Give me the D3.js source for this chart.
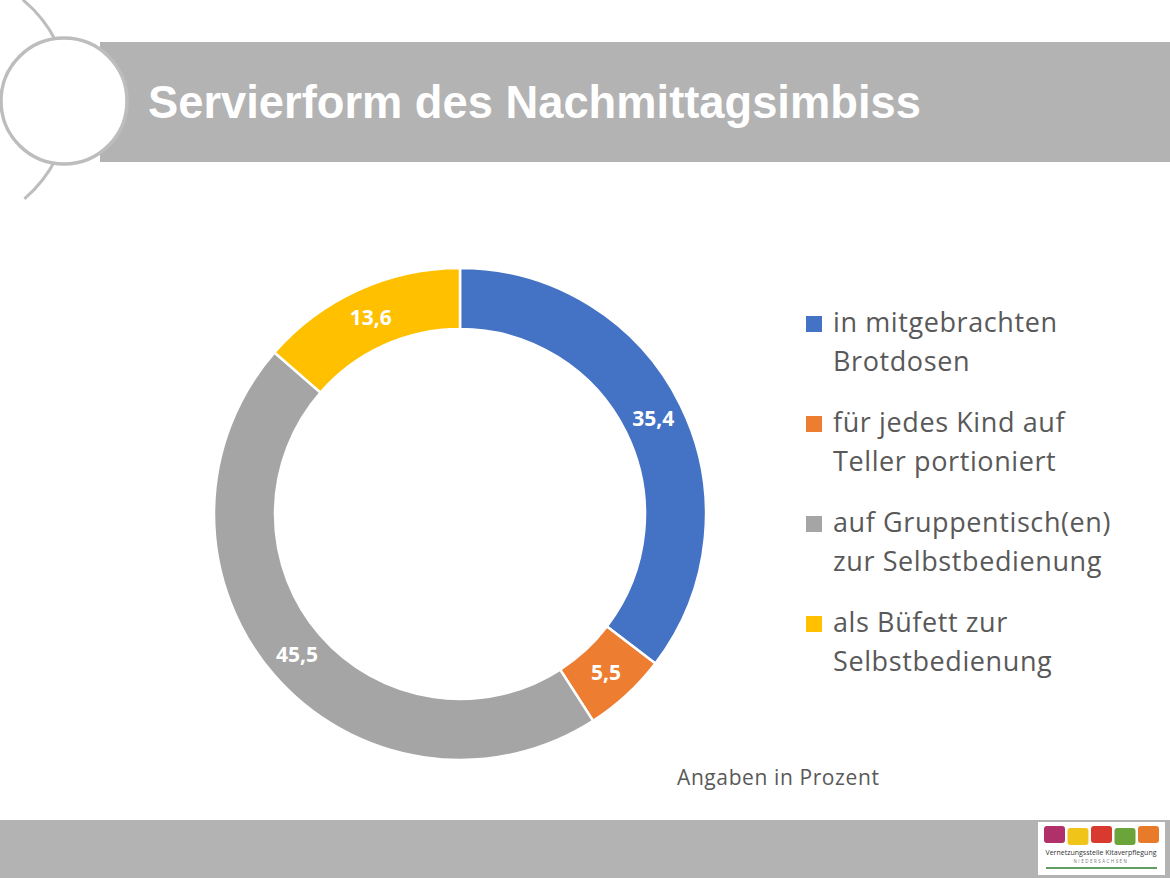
<!DOCTYPE html>
<html><head><meta charset="utf-8">
<script src="https://cdn.jsdelivr.net/npm/d3@7"></script>
<style>body{margin:0;background:#fff}svg{display:block}</style>
</head><body>
<svg id="c" width="1170" height="878"></svg>
<script>
const categories = ["in mitgebrachten Brotdosen","für jedes Kind auf Teller portioniert","auf Gruppentisch(en) zur Selbstbedienung","als Büfett zur Selbstbedienung"];
const legendLines = [["in mitgebrachten","Brotdosen"],["für jedes Kind auf","Teller portioniert"],["auf Gruppentisch(en)","zur Selbstbedienung"],["als Büfett zur","Selbstbedienung"]];
const values = [35.4, 5.5, 45.5, 13.6];
const colors = ["#4472C4","#ED7D31","#A5A5A5","#FFC000"];
const title = "Servierform des Nachmittagsimbiss";
const note = "Angaben in Prozent";

const svg = d3.select("#c");
const font = "'Open Sans', Lato, sans-serif";

// header
svg.append("rect").attr("x",100).attr("y",42).attr("width",1070).attr("height",120).attr("fill","#b3b3b3");
const deg = Math.PI/180;
const bigArc = d3.path();
bigArc.arc(-60,100,130,-50.5*deg,-27*deg);
bigArc.moveTo(-60+130*Math.cos(27*deg),100+130*Math.sin(27*deg));
bigArc.arc(-60,100,130,27*deg,49.5*deg);
svg.append("path").attr("d",bigArc.toString()).attr("fill","none").attr("stroke","#bdbdbd").attr("stroke-width",3);
svg.append("circle").attr("cx",64).attr("cy",101).attr("r",63).attr("fill","#fff").attr("stroke","#bdbdbd").attr("stroke-width",3.5);
svg.append("text").attr("x",148).attr("y",118).attr("fill","#fff").attr("font-family","Arial, 'Liberation Sans', sans-serif")
  .attr("font-weight","bold").attr("font-size",45.3).text(title);

// footer
svg.append("rect").attr("x",0).attr("y",820).attr("width",1170).attr("height",58).attr("fill","#b3b3b3");
const logo = svg.append("g").attr("transform","translate(1038,822)");
logo.append("rect").attr("width",127).attr("height",53).attr("fill","#fff");
const logoCols = ["#b0306a","#f0c419","#d83a2f","#6aa43a","#e87b2a"];
logo.selectAll("rect.t").data(logoCols).join("rect").attr("class","t")
  .attr("x",(d,i)=>6+i*23.5).attr("y",(d,i)=>4+(i%2)*2).attr("width",21).attr("height",17).attr("rx",3).attr("fill",d=>d);
logo.append("text").attr("x",63).attr("y",33).attr("text-anchor","middle").attr("font-size",7).attr("fill","#333").attr("font-family",font).text("Vernetzungsstelle Kitaverpflegung");
logo.append("text").attr("x",63).attr("y",41).attr("text-anchor","middle").attr("font-size",4.5).attr("fill","#777").attr("letter-spacing",1.5).attr("font-family",font).text("NIEDERSACHSEN");
logo.append("line").attr("x1",8).attr("x2",119).attr("y1",46).attr("y2",46).attr("stroke","#2e7d32").attr("stroke-width",1.5);

// donut
const cx = 460, cy = 514, rOuter = 246, rInner = 185;
const pie = d3.pie().sort(null).value(d=>d)(values);
const arc = d3.arc().innerRadius(rInner).outerRadius(rOuter);
const g = svg.append("g").attr("transform",`translate(${cx},${cy})`);
g.selectAll("path").data(pie).join("path").attr("d",arc).attr("fill",(d,i)=>colors[i]).attr("stroke","#fff").attr("stroke-width",2.5);
const fmt = v => d3.format(".1f")(v).replace(".",",");
g.selectAll("text").data(pie).join("text")
  .attr("transform",d=>`translate(${arc.centroid(d)})`).attr("text-anchor","middle").attr("dy","0.35em")
  .attr("fill","#fff").attr("font-weight","bold").attr("font-size",21).attr("font-family",font).text(d=>fmt(d.data));

// legend
const lg = svg.append("g");
legendLines.forEach((lines,i)=>{
  const y0 = 332 + i*100;
  lg.append("rect").attr("x",806).attr("y",y0-16).attr("width",16).attr("height",16).attr("fill",colors[i]);
  lines.forEach((t,j)=>{
    lg.append("text").attr("x",833).attr("y",y0+j*39).attr("fill","#595959").attr("font-size",27).attr("letter-spacing",0.6).attr("font-family",font).text(t);
  });
});

svg.append("text").attr("x",677).attr("y",785).attr("fill","#595959").attr("font-size",21).attr("letter-spacing",0.6).attr("font-family",font).text(note);
</script>
</body></html>
